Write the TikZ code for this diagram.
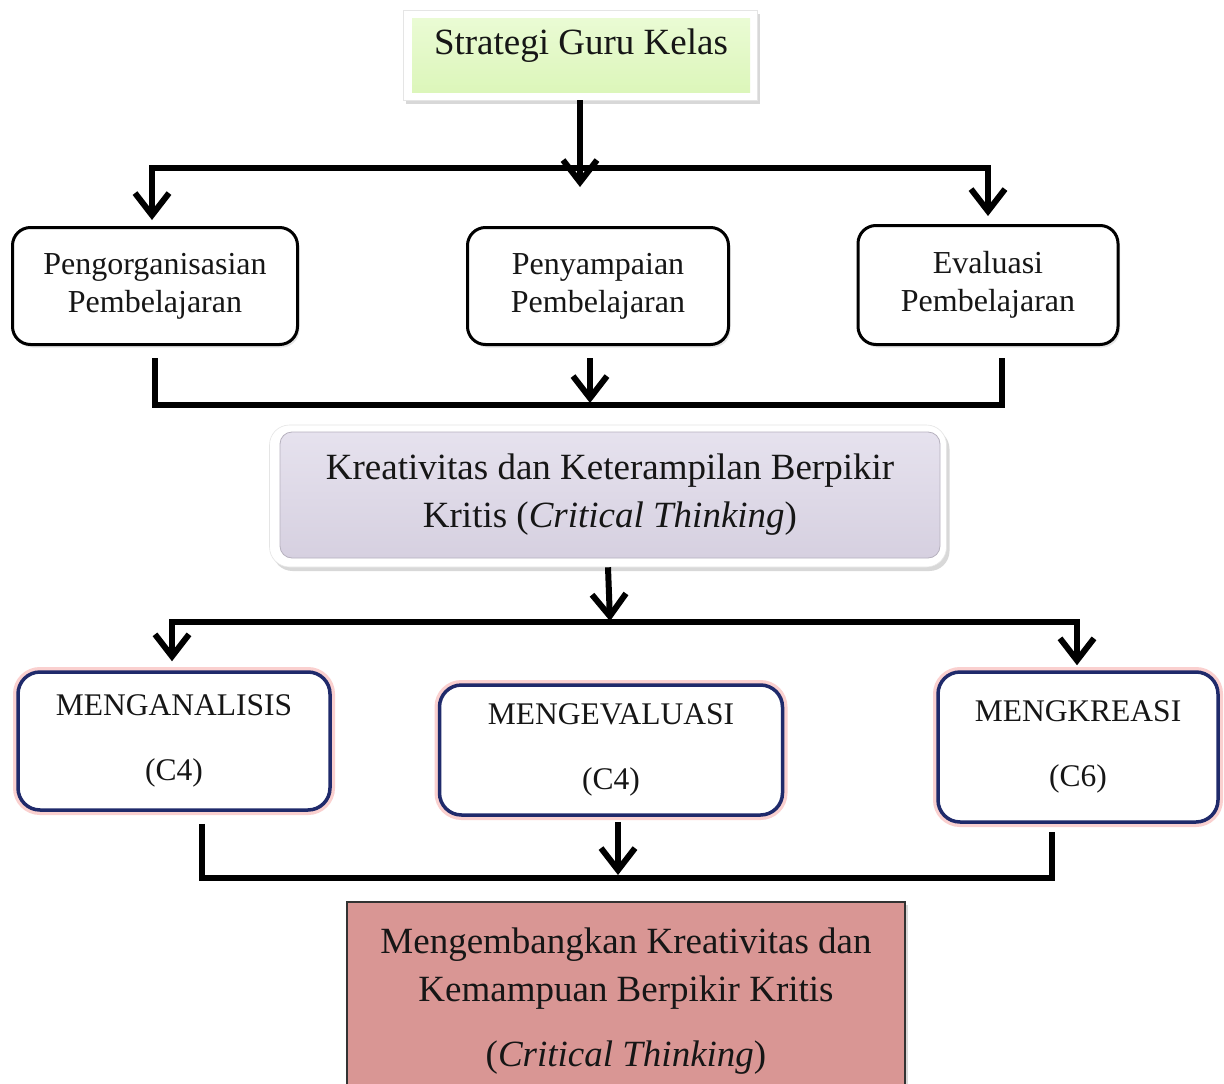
\documentclass[tikz,border=0pt]{standalone}
\usepackage{fontspec}
\setmainfont{Liberation Serif}
\usetikzlibrary{arrows.meta,shadows,calc}
\definecolor{grnA}{HTML}{EAFBD4}
\definecolor{grnB}{HTML}{DCF6BA}
\definecolor{lavA}{HTML}{E6E2EE}
\definecolor{lavB}{HTML}{D6D0E0}
\definecolor{rosebox}{HTML}{D99694}
\definecolor{navyline}{HTML}{1F2A6B}
\definecolor{glowpink}{HTML}{FAD0CF}
\definecolor{txt}{HTML}{161616}
\begin{document}
\begin{tikzpicture}[x=1pt,y=-1pt,
  conn/.style={line width=6pt, draw=black, line join=miter, line cap=butt},
  arr/.style={conn, -{Straight Barb[length=22pt,width=34pt]}},
  arrtwo/.style={conn, {Straight Barb[length=22pt,width=34pt]}-{Straight Barb[length=22pt,width=34pt]}},
  lvl/.style={draw=black, line width=3pt, rounded corners=18pt, fill=white, align=center,
    text=txt, font=\fontsize{32}{38}\selectfont, inner sep=0pt,
    drop shadow={shadow xshift=2pt, shadow yshift=-3pt, opacity=0.2}},
  cbox/.style={draw=navyline, line width=3.5pt, rounded corners=22pt, fill=white, align=center,
    text=txt, font=\fontsize{31.5}{38}\selectfont, inner sep=0pt,
    preaction={draw=glowpink, line width=10pt}},
  frame/.style={draw=gray!20, line width=0.6pt, fill=white, inner sep=0pt,
    drop shadow={shadow xshift=3pt, shadow yshift=-4pt, opacity=0.3}}
]
\clip (0,0) rectangle (1224,1084);
\fill[white] (0,0) rectangle (1224,1084);

% top box
\node[frame, minimum width=354pt, minimum height=90pt] (topframe) at (580,55) {};
\node[top color=grnA, bottom color=grnB, minimum width=338pt, minimum height=74pt, inner sep=0pt,
  text=txt, font=\fontsize{37}{44}\selectfont, text height=26pt, text depth=28pt] (top) at (581,55) {Strategi Guru Kelas};

% level 2
\node[lvl, minimum width=285pt, minimum height=117pt] (A) at (155,286) {Pengorganisasian\\Pembelajaran};
\node[lvl, minimum width=261pt, minimum height=117pt] (B) at (598,286) {Penyampaian\\Pembelajaran};
\node[lvl, minimum width=260pt, minimum height=119pt] (C) at (988,285) {Evaluasi\\Pembelajaran};

% middle box
\node[frame, rounded corners=20pt, minimum width=677pt, minimum height=142pt] (midframe) at (608,496) {};
\node[top color=lavA, bottom color=lavB, draw=lavB!85!black, line width=0.8pt, rounded corners=12pt,
  minimum width=660pt, minimum height=126pt, inner sep=0pt, align=center, text=txt,
  font=\fontsize{37}{48}\selectfont] (mid) at (610,495)
  {Kreativitas dan Keterampilan Berpikir\\Kritis (\textit{Critical Thinking})};

% C boxes
\node[cbox, minimum width=312pt, minimum height=138pt] (C1) at (174,741) {MENGANALISIS\\[27pt](C4)};
\node[cbox, minimum width=343pt, minimum height=130pt] (C2) at (611,750) {MENGEVALUASI\\[27pt](C4)};
\node[cbox, minimum width=280pt, minimum height=150pt] (C3) at (1078,747) {MENGKREASI\\[27pt](C6)};

% bottom box
\node[fill=rosebox, draw=black!80, line width=1.5pt, minimum width=558pt, minimum height=198pt,
  inner sep=0pt, align=center, text=txt, font=\fontsize{37}{48}\selectfont,
  drop shadow={shadow xshift=3pt, shadow yshift=-3pt, opacity=0.3}] (bot) at (626,1001)
  {Mengembangkan Kreativitas dan\\Kemampuan Berpikir Kritis\\[17pt](\textit{Critical Thinking})};

% connectors
\coordinate (h1) at (580,168);
\coordinate (t1) at (580,187);
\draw[arrtwo] ($(A.north)+(-3,-6)$) -- ($(A.north |- h1)+(-3,0)$) -- (C.north |- h1) -- ($(C.north)+(0,-8)$);
\draw[arr] (topframe.south) -- (t1);

\coordinate (h2) at (598,405);
\draw[conn] ($(A.south)+(0,12)$) -- (A.south |- h2) -- ($(C.south |- h2)+(14,0)$) -- ($(C.south)+(14,12)$);
\draw[arr] ($(B.south)+(-8,12)$) -- ($(B.south |- h2)+(-8,-2)$);

\coordinate (h3) at (610,622);
\draw[arr] (midframe.south) -- ($(h3)+(0,-1)$);
\draw[arrtwo] ($(C1.north)+(-2,-9)$) -- ($(C1.north |- h3)+(-2,0)$) -- ($(C3.north |- h3)+(-1,0)$) -- ($(C3.north)+(-1,-5)$);

\coordinate (h4) at (618,878);
\draw[conn] ($(C1.south)+(28,12)$) -- ($(C1.south |- h4)+(28,0)$) -- ($(C3.south |- h4)+(-26,0)$) -- ($(C3.south)+(-26,8)$);
\draw[arr] ($(C2.south)+(7,5)$) -- ($(C2.south |- h4)+(7,-3)$);
\end{tikzpicture}
\end{document}
